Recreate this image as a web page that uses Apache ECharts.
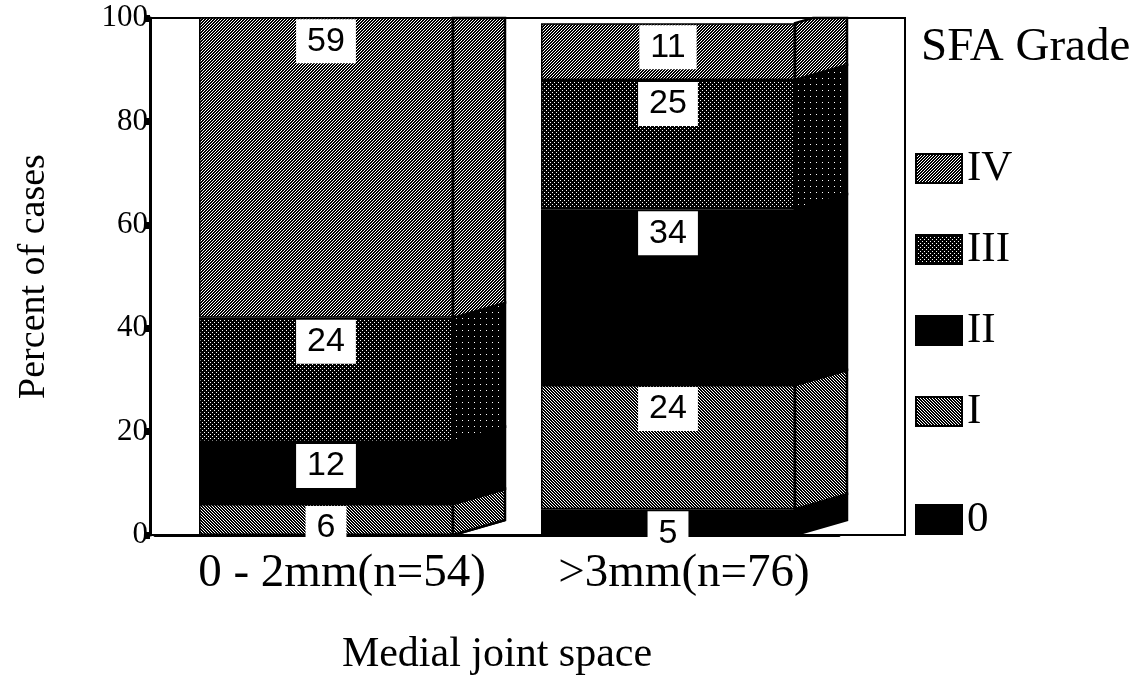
<!DOCTYPE html>
<html><head><meta charset="utf-8">
<script src="https://cdn.jsdelivr.net/npm/echarts@6/dist/echarts.min.js"></script>
<style>html,body{margin:0;padding:0;background:#fff}#c{width:1143px;height:683px}</style>
</head><body><div id="c"></div>
<script>
// ---- data ----
const categories = ['0 - 2mm(n=54)', '>3mm(n=76)'];
const gradeNames = ['0', 'I', 'II', 'III', 'IV'];
const grade0 = [0, 5];
const gradeI = [6, 24];
const gradeII = [12, 34];
const gradeIII = [24, 25];
const gradeIV = [59, 11];
const legendUpper = ['IV', 'III', 'II', 'I'];
const legendLower = ['0'];
const yMin = 0, yMax = 100, yStep = 20;

// ---- patterns ----
function pat(n, fn) {
  const c = document.createElement('canvas'); c.width = n; c.height = n;
  const ctx = c.getContext('2d');
  ctx.fillStyle = '#000'; ctx.fillRect(0, 0, n, n);
  ctx.fillStyle = '#fff';
  for (let y = 0; y < n; y++) for (let x = 0; x < n; x++) if (fn(x, y)) ctx.fillRect(x, y, 1, 1);
  return { image: c, repeat: 'repeat' };
}
const fills = {
  '0': '#000',
  'I': pat(3, (x, y) => ((x - y + 30) % 3) === 0),
  'II': '#000',
  'III': pat(4, (x, y) => (x % 4 === 0 && y % 4 === 0) || (x % 4 === 2 && y % 4 === 2)),
  'IV': pat(3, (x, y) => ((x + y) % 3) === 0)
};
const sideFills = {
  '0': '#000',
  'I': fills['I'],
  'II': '#000',
  'III': pat(6, (x, y) => (x === 0 && y === 0)),
  'IV': fills['IV']
};

const valuesByGrade = { '0': grade0, 'I': gradeI, 'II': gradeII, 'III': gradeIII, 'IV': gradeIV };

function clipTop(pts, yt) {
  const out = [];
  for (let k = 0; k < pts.length; k++) {
    const a = pts[k], b = pts[(k + 1) % pts.length];
    const ain = a[1] >= yt, bin = b[1] >= yt;
    if (ain) out.push(a);
    if (ain !== bin) { const t = (yt - a[1]) / (b[1] - a[1]); out.push([a[0] + t * (b[0] - a[0]), yt]); }
  }
  return out;
}

const BAR_W = 254, DEPTH_X = 52, DEPTH_Y = 15;
const series = [];
const bases = categories.map(() => 0);
gradeNames.forEach(g => {
  const vals = valuesByGrade[g];
  const myBase = bases.slice();
  series.push({
    type: 'bar', name: g, stack: 'total', barWidth: BAR_W, z: 3,
    data: vals.map(v => ({ value: v, label: { show: v > 0 } })),
    itemStyle: { color: fills[g], borderColor: '#000', borderWidth: 1.5 },
    label: {
      show: true, position: 'insideTop', distance: 2,
      backgroundColor: '#fff', color: '#000',
      fontFamily: 'Liberation Sans', fontSize: 34, lineHeight: 34,
      padding: [5, 11]
    }
  });
  series.push({
    type: 'custom', name: g + ' side', z: 2,
    encode: { x: 0, y: [1, 2] },
    data: vals.map((v, i) => [i, myBase[i], myBase[i] + v]),
    renderItem: (params, api) => {
      const i = api.value(0);
      const p0 = api.coord([i, api.value(1)]);
      const p1 = api.coord([i, api.value(2)]);
      const ytop = api.coord([i, yMax])[1];
      const xr = p0[0] + BAR_W / 2;
      let pts = [[xr, p0[1]], [xr + DEPTH_X, p0[1] - DEPTH_Y], [xr + DEPTH_X, p1[1] - DEPTH_Y], [xr, p1[1]]];
      pts = clipTop(pts, ytop);
      if (pts.length < 3) return null;
      return { type: 'polygon', shape: { points: pts }, style: { fill: sideFills[g], stroke: '#000', lineWidth: 2.5 } };
    }
  });
  vals.forEach((v, i) => bases[i] += v);
});

const serif = 'Liberation Serif';
const legendCommon = {
  orient: 'vertical', left: 910,
  itemWidth: 46, itemHeight: 29, icon: 'rect', selectedMode: false,
  textStyle: { fontFamily: serif, fontSize: 43, color: '#000' }
};
const chart = echarts.init(document.getElementById('c'));
chart.setOption({
  animation: false,
  backgroundColor: '#fff',
  title: { text: 'SFA Grade', left: 916, top: 19, textStyle: { fontFamily: serif, fontSize: 47, fontWeight: 'normal', color: '#000' } },
  legend: [
    Object.assign({}, legendCommon, { data: legendUpper, top: 142, itemGap: 38 }),
    Object.assign({}, legendCommon, { data: legendLower, top: 493 })
  ],
  grid: [
    { left: 155, width: 684, top: 18, bottom: 148, outerBoundsMode: 'none', containLabel: false },
    { left: 150, right: 238, top: 18, bottom: 148, show: true, borderColor: '#000', borderWidth: 2, backgroundColor: 'transparent', outerBoundsMode: 'none', containLabel: false }
  ],
  xAxis: [
    {
      type: 'category', data: categories, gridIndex: 0,
      axisLine: { show: true, lineStyle: { color: '#000', width: 3 } },
      axisTick: { show: false },
      axisLabel: { color: '#000', fontFamily: serif, fontSize: 47, margin: 15, interval: 0, hideOverlap: false, padding: [0, 0, 0, 32] },
      name: 'Medial joint space', nameLocation: 'middle', nameGap: 99,
      nameTextStyle: { color: '#000', fontFamily: serif, fontSize: 42 }
    },
    { type: 'value', gridIndex: 1, show: false }
  ],
  yAxis: [
    {
      type: 'value', min: yMin, max: yMax, interval: yStep, gridIndex: 0, offset: 5,
      axisLine: { show: true, lineStyle: { color: '#000', width: 3 } },
      axisTick: { show: true, inside: false, length: 5, lineStyle: { color: '#000', width: 7 } },
      splitLine: { show: false },
      axisLabel: { color: '#000', fontFamily: serif, fontSize: 31, margin: 2 },
      name: 'Percent of cases', nameLocation: 'middle', nameGap: 97, nameRotate: 90,
      nameTextStyle: { color: '#000', fontFamily: serif, fontSize: 38 }
    },
    { type: 'value', gridIndex: 1, show: false }
  ],
  series: series
});
</script></body></html>
